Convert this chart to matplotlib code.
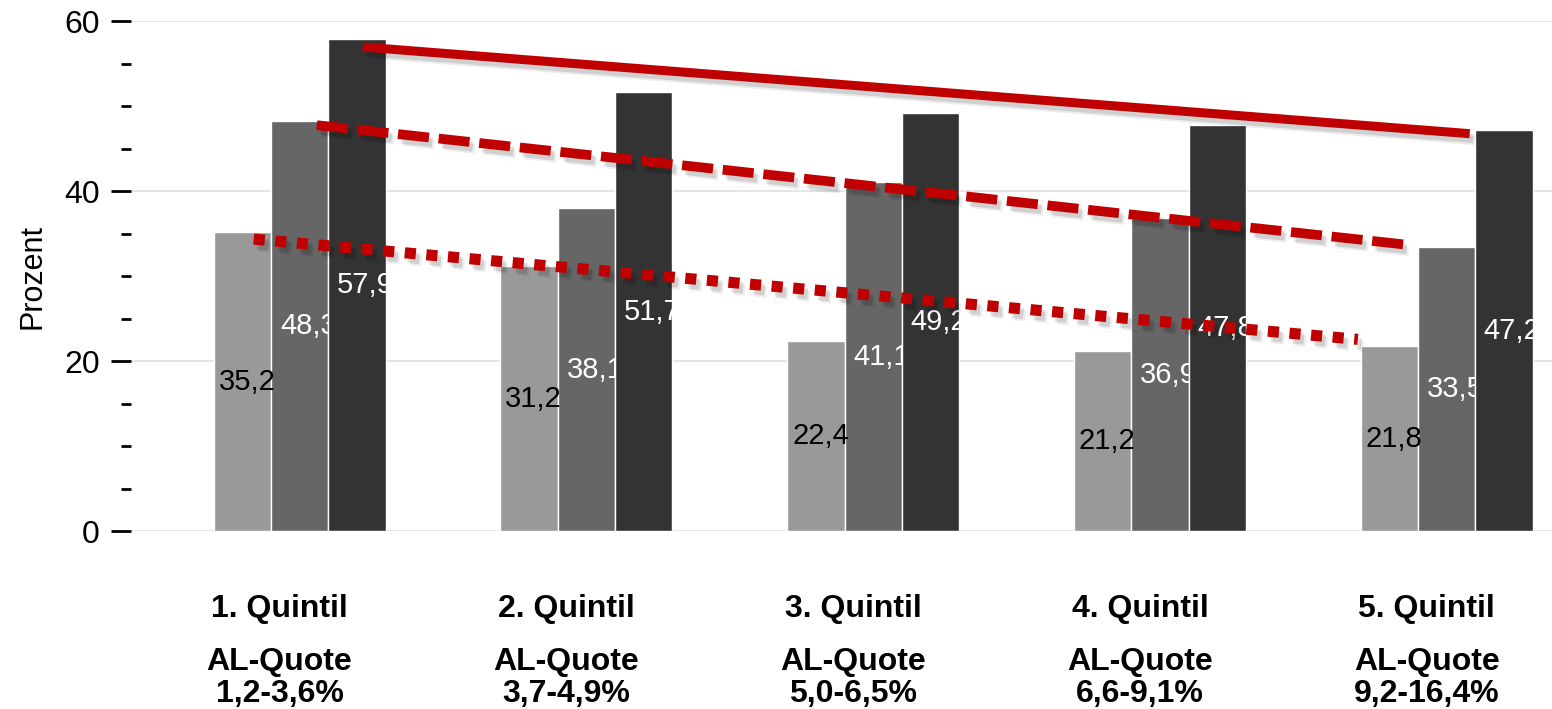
import matplotlib
matplotlib.use("Agg")
import matplotlib.pyplot as plt
import matplotlib.patheffects as pe
import matplotlib.transforms as mtransforms
import numpy as np

# Daten
quintile = ["1. Quintil", "2. Quintil", "3. Quintil", "4. Quintil", "5. Quintil"]
al_quote = ["1,2-3,6%", "3,7-4,9%", "5,0-6,5%", "6,6-9,1%", "9,2-16,4%"]
serie_hell = [35.2, 31.2, 22.4, 21.2, 21.8]
serie_mittel = [48.3, 38.1, 41.1, 36.9, 33.5]
serie_dunkel = [57.9, 51.7, 49.2, 47.8, 47.2]

# Trendlinien (Anfang/Ende)
trend_solid_x = [0.22, 4.08]
trend_solid_y = [57.0, 46.8]
trend_dash_x = [0.06, 3.87]
trend_dash_y = [47.8, 33.7]
trend_dot_x = [-0.16, 3.69]
trend_dot_y = [34.4, 22.6]

plt.rcParams['font.family'] = ['Liberation Sans', 'DejaVu Sans']

fig = plt.figure(figsize=(15.52, 7.09), dpi=100)
ax = fig.add_axes([0.0844, 0.2504, 1 - 0.0844, 0.9697 - 0.2504])

x = np.arange(len(quintile))
w = 0.2

b1 = ax.bar(x - 0.2, serie_hell, w, color='#999999', edgecolor='white', linewidth=1, zorder=1)
b2 = ax.bar(x, serie_mittel, w, color='#666666', edgecolor='white', linewidth=1, zorder=2)
b3 = ax.bar(x + 0.2, serie_dunkel, w, color='#333333', edgecolor='white', linewidth=1, zorder=3)

# Beschriftungen in den Balken (links ausgerichtet, mittig)
def beschriften(bars, werte, farbe, z, dx):
    for b, v in zip(bars, werte):
        ax.annotate(f"{v:.1f}".replace(".", ","),
                    (b.get_x(), v / 2), xytext=(dx, 0), textcoords='offset points',
                    ha='left', va='center', fontsize=21, color=farbe, zorder=z)

beschriften(b2, serie_mittel, 'white', 2.5, 6.5)
beschriften(b3, serie_dunkel, 'white', 3.5, 6)
beschriften(b1, serie_hell, 'black', 4, 3.5)

# Trendlinien mit weichem Schatten
schatten = [pe.SimpleLineShadow(offset=(4, -5), shadow_color='black', alpha=0.07),
            pe.SimpleLineShadow(offset=(2.5, -3.5), shadow_color='black', alpha=0.12),
            pe.Normal()]
ax.plot(trend_solid_x, trend_solid_y, color='#C00000', lw=6.5, solid_capstyle='butt',
        path_effects=schatten, zorder=5, clip_on=False)
ax.plot(trend_dash_x, trend_dash_y, color='#C00000', lw=7, linestyle=(0, (3.2, 1.0)),
        dash_capstyle='butt', path_effects=schatten, zorder=5, clip_on=False)
ax.plot(trend_dot_x, trend_dot_y, color='#C00000', lw=8, linestyle=(0, (1.0, 0.95)),
        dash_capstyle='butt', path_effects=schatten, zorder=5, clip_on=False)

ax.set_xlim(-0.588, 4.367)
ax.set_ylim(0, 60)
ax.set_yticks([0, 20, 40, 60])
ax.set_yticks(np.arange(5, 60, 5), minor=True)
ax.tick_params(axis='y', which='major', length=14.4, width=2, pad=8, labelsize=23)
ax.tick_params(axis='y', which='minor', length=7.5, width=2)
ax.tick_params(axis='x', bottom=False, labelbottom=False)
ax.yaxis.grid(True, which='major', color='#e0e0e0', linewidth=1.2, zorder=0)
ax.set_axisbelow(True)
for s in ax.spines.values():
    s.set_visible(False)
ax.set_ylabel("Prozent", fontsize=22, labelpad=12)

# Kategorienbeschriftung unter der Achse
trans = mtransforms.blended_transform_factory(ax.transData, ax.transAxes)
for i in range(len(quintile)):
    ax.text(x[i] - 0.07, -0.153, quintile[i], transform=trans, ha='center', va='center',
            fontsize=23, fontweight='bold')
    ax.text(x[i] - 0.07, -0.255, "AL-Quote", transform=trans, ha='center', va='center',
            fontsize=23, fontweight='bold')
    ax.text(x[i] - 0.07, -0.318, al_quote[i], transform=trans, ha='center', va='center',
            fontsize=23, fontweight='bold')

fig.savefig("out.png", dpi=100)
